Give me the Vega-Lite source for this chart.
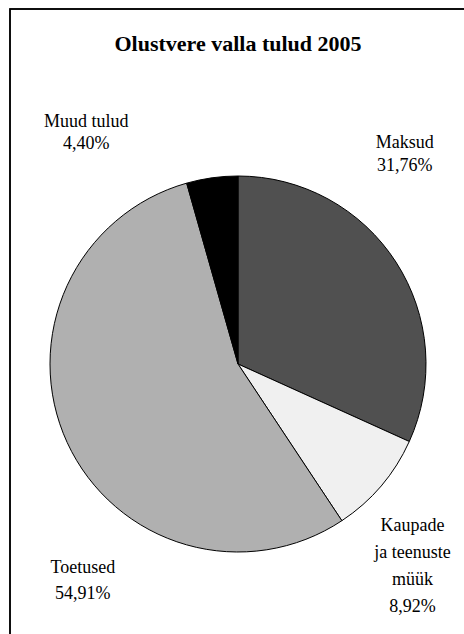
{
  "$schema": "https://vega.github.io/schema/vega-lite/v6.json",
  "width": 456,
  "height": 710,
  "autosize": {"type": "none"},
  "padding": {"left": 10, "top": 9, "right": 0, "bottom": 0},
  "background": "white",
  "view": {"stroke": "black", "strokeWidth": 1.5},
  "title": {
    "text": "Olustvere valla tulud 2005",
    "font": "Liberation Serif",
    "fontSize": 22,
    "fontWeight": "bold",
    "color": "black",
    "anchor": "middle",
    "offset": -48
  },
  "config": {
    "font": "Liberation Serif",
    "text": {"font": "Liberation Serif", "fontSize": 18, "color": "black"}
  },
  "data": {
    "values": [
      {"i": 1, "k": "Maksud", "pct": 31.76, "label": "Maksud\n31,76%"},
      {"i": 2, "k": "Kaupade ja teenuste müük", "pct": 8.92, "label": "Kaupade\nja teenuste\nmüük\n8,92%"},
      {"i": 3, "k": "Toetused", "pct": 54.91, "label": "Toetused\n54,91%"},
      {"i": 4, "k": "Muud tulud", "pct": 4.40, "label": "Muud tulud\n4,40%"}
    ]
  },
  "layer": [
    {
      "data": {"values": [{"frame": "box"}]},
      "mark": {"type": "rect", "fill": "transparent", "stroke": "black", "strokeWidth": 1.5},
      "encoding": {}
    },
    {
      "mark": {"type": "arc", "outerRadius": 188, "stroke": "black", "strokeWidth": 1},
      "encoding": {
        "theta": {"field": "pct", "type": "quantitative", "stack": true},
        "order": {"field": "i", "type": "quantitative"},
        "color": {
          "field": "k",
          "type": "nominal",
          "scale": {
            "domain": ["Maksud", "Kaupade ja teenuste müük", "Toetused", "Muud tulud"],
            "range": ["#505050", "#f0f0f0", "#b0b0b0", "#000000"]
          },
          "legend": null
        }
      }
    },
    {
      "transform": [
        {"window": [{"op": "sum", "field": "pct", "as": "cum"}], "sort": [{"field": "i"}], "frame": [null, 0]},
        {"calculate": "datum.cum - datum.pct / 2", "as": "mid"},
        {"filter": "datum.i === 1"}
      ],
      "mark": {"type": "text", "font": "Liberation Serif", "fontSize": 18, "color": "black", "radius": 195, "align": "center", "baseline": "middle", "lineBreak": "\n", "lineHeight": 23, "dx": 3, "dy": -115},
      "encoding": {
        "theta": {"field": "mid", "type": "quantitative", "stack": false},
        "text": {"field": "label"}
      }
    },
    {
      "transform": [
        {"window": [{"op": "sum", "field": "pct", "as": "cum"}], "sort": [{"field": "i"}], "frame": [null, 0]},
        {"calculate": "datum.cum - datum.pct / 2", "as": "mid"},
        {"filter": "datum.i === 2"}
      ],
      "mark": {"type": "text", "font": "Liberation Serif", "fontSize": 18, "color": "black", "radius": 195, "align": "center", "baseline": "middle", "lineBreak": "\n", "lineHeight": 27, "dx": 26, "dy": 36},
      "encoding": {
        "theta": {"field": "mid", "type": "quantitative", "stack": false},
        "text": {"field": "label"}
      }
    },
    {
      "transform": [
        {"window": [{"op": "sum", "field": "pct", "as": "cum"}], "sort": [{"field": "i"}], "frame": [null, 0]},
        {"calculate": "datum.cum - datum.pct / 2", "as": "mid"},
        {"filter": "datum.i === 3"}
      ],
      "mark": {"type": "text", "font": "Liberation Serif", "fontSize": 18, "color": "black", "radius": 195, "align": "center", "baseline": "middle", "lineBreak": "\n", "lineHeight": 26, "dx": 22, "dy": 123},
      "encoding": {
        "theta": {"field": "mid", "type": "quantitative", "stack": false},
        "text": {"field": "label"}
      }
    },
    {
      "transform": [
        {"window": [{"op": "sum", "field": "pct", "as": "cum"}], "sort": [{"field": "i"}], "frame": [null, 0]},
        {"calculate": "datum.cum - datum.pct / 2", "as": "mid"},
        {"filter": "datum.i === 4"}
      ],
      "mark": {"type": "text", "font": "Liberation Serif", "fontSize": 18, "color": "black", "radius": 195, "align": "center", "baseline": "middle", "lineBreak": "\n", "lineHeight": 22, "dx": -125, "dy": -49},
      "encoding": {
        "theta": {"field": "mid", "type": "quantitative", "stack": false},
        "text": {"field": "label"}
      }
    }
  ]
}
